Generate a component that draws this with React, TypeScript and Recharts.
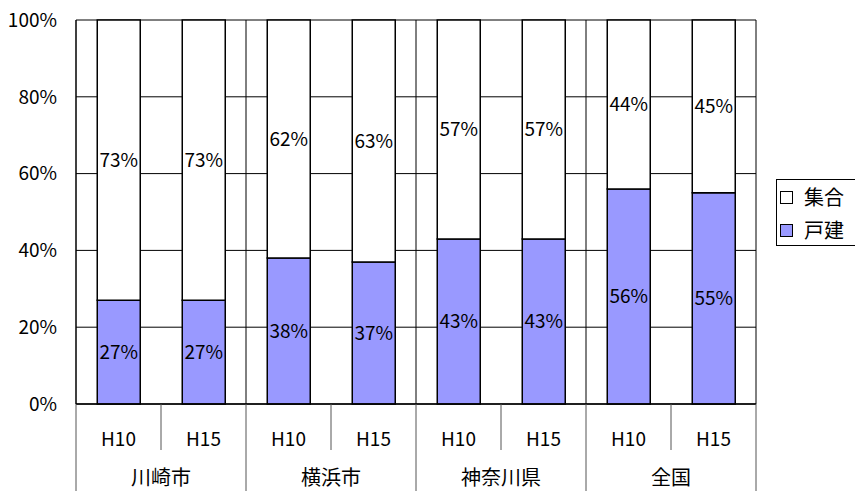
import React from 'react';
import { BarChart, Bar, XAxis, YAxis, CartesianGrid, LabelList } from 'recharts';

// Housing type share (%) by area and survey year
const regions = ['川崎市', '横浜市', '神奈川県', '全国'];
const periods = ['H10', 'H15'];
const detached = [27, 27, 38, 37, 43, 43, 56, 55]; // 戸建
const collective = [73, 73, 62, 63, 57, 57, 44, 45]; // 集合
const yTicks = [0, 20, 40, 60, 80, 100];

const data = detached.map((d, i) => ({
  key: `${regions[Math.floor(i / periods.length)]}-${periods[i % periods.length]}`,
  region: regions[Math.floor(i / periods.length)],
  period: periods[i % periods.length],
  detached: d,
  collective: collective[i],
}));

const W = 855;
const H = 491;
const MARGIN = { top: 20, right: 99, bottom: 0, left: 0 };
const Y_W = 76;
const X_H = 87;
const PLOT_W = W - MARGIN.left - MARGIN.right - Y_W;
const PLOT_H = H - MARGIN.top - MARGIN.bottom - X_H;
const FONT = '"Noto Sans CJK JP", "Noto Sans", sans-serif';

const PeriodTick = (props: any) => {
  const { x, y, payload, index } = props;
  const half = payload && payload.offset ? payload.offset : PLOT_W / data.length / 2;
  const row = data[index];
  const lastInGroup = index % periods.length === periods.length - 1;
  return (
    <g>
      {index === 0 && (
        <line x1={x - half} x2={x - half} y1={y} y2={y + X_H} stroke="#555" strokeWidth={1} />
      )}
      {lastInGroup ? (
        <g>
          <line x1={x + half} x2={x + half} y1={y - PLOT_H} y2={y} stroke="#000" strokeWidth={1} />
          <line x1={x + half} x2={x + half} y1={y} y2={y + X_H} stroke="#555" strokeWidth={1} />
          <text x={x - half} y={y + 72} textAnchor="middle" dominantBaseline="central"
            fontSize={20} fill="#000" fontFamily={FONT}>{row.region}</text>
        </g>
      ) : (
        <line x1={x + half} x2={x + half} y1={y} y2={y + 46} stroke="#555" strokeWidth={1} />
      )}
      <text x={x} y={y + 33} textAnchor="middle" dominantBaseline="central"
        fontSize={19} fill="#000" fontFamily={FONT}>{row.period}</text>
    </g>
  );
};

const legendItems = [
  { name: '集合', color: '#FFFFFF' },
  { name: '戸建', color: '#9999FF' },
];

export default function App() {
  return (
    <div style={{ position: 'absolute', left: 0, top: 0, width: W, height: H, overflow: 'hidden', background: '#fff' }}>
      <BarChart width={W} height={H} data={data} margin={MARGIN} barCategoryGap="25%">
        <CartesianGrid vertical={false} stroke="#000" strokeWidth={1} />
        <YAxis
          width={Y_W}
          domain={[0, 100]}
          ticks={yTicks}
          interval={0}
          tickFormatter={(v: number) => `${v}%`}
          axisLine={{ stroke: '#000', strokeWidth: 1.5 }}
          tickLine={false}
          tickSize={0}
          tickMargin={19}
          tick={{ fontSize: 19, fill: '#000', fontFamily: FONT }}
        />
        <XAxis
          dataKey="key"
          height={X_H}
          interval={0}
          axisLine={{ stroke: '#000', strokeWidth: 1.5 }}
          tickLine={false}
          tickSize={0}
          tickMargin={0}
          tick={<PeriodTick />}
        />
        <Bar dataKey="detached" stackId="a" fill="#9999FF" stroke="#000" strokeWidth={1.5} isAnimationActive={false}>
          <LabelList dataKey="detached" position="center" formatter={(v: any) => `${v}%`}
            style={{ fontSize: 19, fill: '#000', fontFamily: FONT }} />
        </Bar>
        <Bar dataKey="collective" stackId="a" fill="#FFFFFF" stroke="#000" strokeWidth={1.5} isAnimationActive={false}>
          <LabelList dataKey="collective" position="center" formatter={(v: any) => `${v}%`}
            style={{ fontSize: 19, fill: '#000', fontFamily: FONT }} />
        </Bar>
      </BarChart>
      <div style={{
        position: 'absolute', left: 776, top: 179, width: 90, height: 67,
        border: '1px solid #000', background: '#fff', boxSizing: 'border-box',
        fontFamily: FONT, fontSize: 20, color: '#000',
      }}>
        {legendItems.map((it, i) => (
          <div key={it.name} style={{ position: 'absolute', left: 3, top: i === 0 ? 3 : 36, height: 28, display: 'flex', alignItems: 'center' }}>
            <span style={{ display: 'inline-block', width: 11, height: 11, border: '1px solid #000', background: it.color, marginRight: 11 }} />
            <span style={{ lineHeight: '28px' }}>{it.name}</span>
          </div>
        ))}
      </div>
    </div>
  );
}
